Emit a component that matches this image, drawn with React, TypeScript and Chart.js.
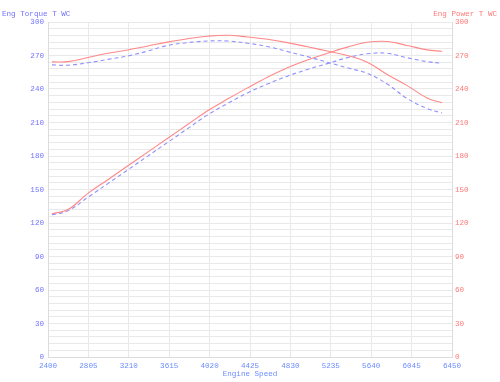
import React, { useEffect, useRef } from "react";
import { Chart, registerables } from "chart.js";

Chart.register(...registerables);

const rpm = [2440, 2600, 2800, 3000, 3200, 3400, 3600, 3800, 4000, 4200, 4400, 4600, 4800, 5000, 5200, 5400, 5600, 5800, 6000, 6200, 6350];
const risingRed = [128.3, 132, 146.5, 158.8, 171.2, 183.5, 195.9, 208.2, 220.5, 231, 241, 250.5, 259, 266, 272, 277.5, 281.8, 282.5, 279, 275, 273.8];
const risingBlue = [127.4, 131, 143, 155.3, 167.6, 179.9, 192.2, 204.5, 216.8, 227, 236.5, 244.5, 251.5, 257.5, 262.7, 268, 271.5, 272, 268, 264.5, 263];
const fallingRed = [264.3, 264.5, 268.2, 272, 275, 278.5, 282, 285, 287.3, 288.1, 286.6, 284.5, 281.5, 277.8, 274, 270, 264, 253, 243, 232, 227.6];
const fallingBlue = [261.6, 261.3, 263.5, 266.5, 269.6, 274, 279, 281.5, 283, 283, 281, 278, 273.5, 269, 264, 259, 254, 244.5, 231.5, 222.5, 218.5];

const xMin = 2400;
const xMax = 6450;
const xStep = 405;
const yMax = 300;
const yGridStep = 6;
const yLabelStep = 30;

const leftTitle = "Eng Torque T WC";
const rightTitle = "Eng Power T WC";
const xTitle = "Engine Speed";

const FONT = "'Liberation Mono', 'Courier New', monospace";
const BLUE_TXT = "#7272ff";
const RED_TXT = "#ff7878";
const XBLUE = "#6c8cff";
const RED_LINE = "#ff8888";
const BLUE_LINE = "#9090ff";
const GRID = "#e9e9e9";

const toPts = (ys: number[]) => rpm.map((x, i) => ({ x, y: ys[i] }));

const titlesPlugin = {
  id: "cornerTitles",
  afterDraw(chart: any) {
    const ctx = chart.ctx;
    ctx.save();
    ctx.font = `7.6px ${FONT}`;
    ctx.textBaseline = "middle";
    ctx.fillStyle = BLUE_TXT;
    ctx.textAlign = "left";
    ctx.fillText(leftTitle, 2, 14);
    ctx.fillStyle = RED_TXT;
    ctx.textAlign = "right";
    ctx.fillText(rightTitle, 497, 14);
    ctx.restore();
  },
};

export default function App() {
  const ref = useRef<HTMLCanvasElement>(null);
  useEffect(() => {
    if (!ref.current) return;
    const yTickCb = (v: any) => (Number(v) % yLabelStep === 0 ? String(v) : "");
    const line = (ys: number[], color: string, axis: string, dash: number[]) => ({
      data: toPts(ys),
      borderColor: color,
      borderWidth: 1.1,
      borderDash: dash,
      pointRadius: 0,
      yAxisID: axis,
      tension: 0.4,
    });
    const chart = new Chart(ref.current, {
      type: "line",
      data: {
        datasets: [
          line(fallingRed, RED_LINE, "yR", []),
          line(risingRed, RED_LINE, "yR", []),
          line(fallingBlue, BLUE_LINE, "yL", [4, 3]),
          line(risingBlue, BLUE_LINE, "yL", [4, 3]),
        ],
      },
      options: {
        animation: false,
        responsive: true,
        maintainAspectRatio: false,
        layout: { padding: { top: 22, left: 0, right: 0, bottom: 3 } },
        plugins: { legend: { display: false }, tooltip: { enabled: false }, title: { display: false } },
        scales: {
          x: {
            type: "linear",
            min: xMin,
            max: xMax,
            afterBuildTicks: (s: any) => {
              const t = [];
              for (let v = xMin; v <= xMax; v += xStep) t.push({ value: v });
              s.ticks = t;
            },
            afterFit: (s: any) => { s.height = 22; },
            grid: { color: GRID, drawTicks: false },
            border: { color: "#dcdcdc" },
            ticks: { color: XBLUE, font: { family: FONT, size: 7.6 }, padding: 4, maxRotation: 0, autoSkip: false, callback: (v: any) => String(v) },
            title: { display: true, text: xTitle, color: XBLUE, font: { family: FONT, size: 7.6 }, padding: { top: 0, bottom: 0 } },
          },
          yL: {
            type: "linear",
            position: "left",
            min: 0,
            max: yMax,
            afterBuildTicks: (s: any) => {
              const t = [];
              for (let v = 0; v <= yMax; v += yGridStep) t.push({ value: v });
              s.ticks = t;
            },
            afterFit: (s: any) => { s.width = 48; },
            grid: { color: GRID, drawTicks: false },
            border: { color: "#dcdcdc" },
            ticks: { color: BLUE_TXT, font: { family: FONT, size: 7.6 }, padding: 4, autoSkip: false, callback: yTickCb },
          },
          yR: {
            type: "linear",
            position: "right",
            min: 0,
            max: yMax,
            afterBuildTicks: (s: any) => {
              const t = [];
              for (let v = 0; v <= yMax; v += yGridStep) t.push({ value: v });
              s.ticks = t;
            },
            afterFit: (s: any) => { s.width = 48; },
            grid: { display: false, drawTicks: false },
            border: { color: "#dcdcdc" },
            ticks: { color: RED_TXT, font: { family: FONT, size: 7.6 }, padding: 3, autoSkip: false, callback: yTickCb },
          },
        },
      } as any,
      plugins: [titlesPlugin],
    });
    return () => chart.destroy();
  }, []);
  return (
    <div style={{ position: "fixed", left: 0, top: 0, width: 500, height: 382, background: "#fff" }}>
      <canvas ref={ref} />
    </div>
  );
}
